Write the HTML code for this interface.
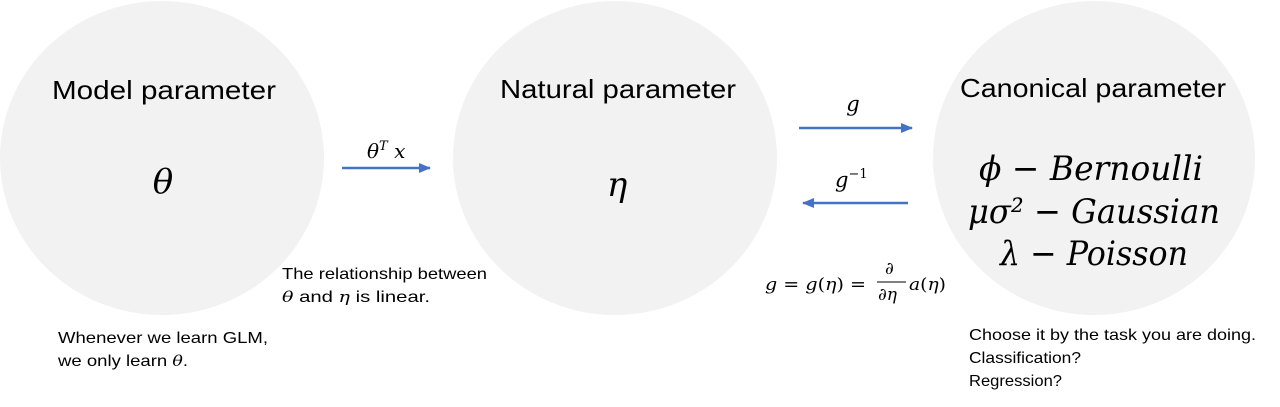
<!DOCTYPE html>
<html><head><meta charset="utf-8"><style>
html,body{margin:0;padding:0;background:#fff;}
svg{display:block;}
.s{font-family:"Liberation Sans",sans-serif;fill:#000;}
.m{font-family:"DejaVu Serif","Liberation Serif",serif;font-style:italic;fill:#000;}
</style></head><body>
<svg width="1280" height="407" viewBox="0 0 1280 407" xmlns="http://www.w3.org/2000/svg">
<defs>
<marker id="ah" markerWidth="12" markerHeight="10" refX="11" refY="5" orient="auto" markerUnits="userSpaceOnUse">
<path d="M0,0 L12,5 L0,10 Z" fill="#4472C4"/></marker>
</defs>
<ellipse cx="162" cy="158" rx="162" ry="157" fill="#f2f2f2"/>
<ellipse cx="615" cy="158" rx="162" ry="157" fill="#f2f2f2"/>
<ellipse cx="1094" cy="158" rx="161" ry="157" fill="#f2f2f2"/>

<text class="s" x="52" y="99" font-size="26" textLength="224" lengthAdjust="spacingAndGlyphs">Model parameter</text>
<text class="s" x="500" y="98" font-size="26" textLength="236" lengthAdjust="spacingAndGlyphs">Natural parameter</text>
<text class="s" x="960" y="97" font-size="26" textLength="266" lengthAdjust="spacingAndGlyphs">Canonical parameter</text>

<text class="m" x="163" y="193" font-size="34" text-anchor="middle">θ</text>
<text class="m" x="617" y="196" font-size="34" text-anchor="middle">η</text>

<text class="m" x="979" y="180" font-size="34" textLength="224" lengthAdjust="spacingAndGlyphs">ϕ − Bernoulli</text>
<text class="m" x="968" y="223" font-size="34" textLength="252" lengthAdjust="spacingAndGlyphs">μσ² − Gaussian</text>
<text class="m" x="1000" y="265" font-size="34" textLength="188" lengthAdjust="spacingAndGlyphs">λ − Poisson</text>

<line x1="342" y1="168" x2="430" y2="168" stroke="#4472C4" stroke-width="2.5" marker-end="url(#ah)"/>
<text class="m" x="367" y="158" font-size="20">θ<tspan font-size="13" dy="-8">T</tspan><tspan dy="8"> x</tspan></text>

<line x1="799" y1="128" x2="912" y2="128" stroke="#4472C4" stroke-width="2.5" marker-end="url(#ah)"/>
<text class="m" x="853" y="111" font-size="21" text-anchor="middle">g</text>
<line x1="908" y1="203" x2="803" y2="203" stroke="#4472C4" stroke-width="2.5" marker-end="url(#ah)"/>
<text class="m" x="835" y="187" font-size="21">g<tspan font-size="13" dy="-9" font-style="normal">−1</tspan></text>

<text class="m" x="765" y="290" font-size="17" textLength="101" lengthAdjust="spacingAndGlyphs">g <tspan font-style="normal">=</tspan> g<tspan font-style="normal">(</tspan>η<tspan font-style="normal">) =</tspan></text>
<text class="m" x="885" y="274" font-size="17">∂</text>
<line x1="877" y1="282" x2="906" y2="282" stroke="#000" stroke-width="1"/>
<text class="m" x="878" y="300" font-size="17">∂η</text>
<text class="m" x="909" y="290" font-size="17" textLength="37" lengthAdjust="spacingAndGlyphs">a<tspan font-style="normal">(</tspan>η<tspan font-style="normal">)</tspan></text>

<text class="s" x="282" y="279" font-size="16" textLength="205" lengthAdjust="spacingAndGlyphs">The relationship between</text>
<text class="s" x="282" y="302" font-size="16" textLength="148" lengthAdjust="spacingAndGlyphs"><tspan class="m" font-size="15">θ</tspan> and <tspan class="m" font-size="15">η</tspan> is linear.</text>

<text class="s" x="58" y="343" font-size="16" textLength="210" lengthAdjust="spacingAndGlyphs">Whenever we learn GLM,</text>
<text class="s" x="58" y="366" font-size="16" textLength="130" lengthAdjust="spacingAndGlyphs">we only learn <tspan class="m" font-size="15">θ</tspan>.</text>

<text class="s" x="969" y="340" font-size="16" textLength="287" lengthAdjust="spacingAndGlyphs">Choose it by the task you are doing.</text>
<text class="s" x="969" y="363" font-size="16" textLength="112" lengthAdjust="spacingAndGlyphs">Classification?</text>
<text class="s" x="969" y="386" font-size="16" textLength="93" lengthAdjust="spacingAndGlyphs">Regression?</text>
</svg>
</body></html>
